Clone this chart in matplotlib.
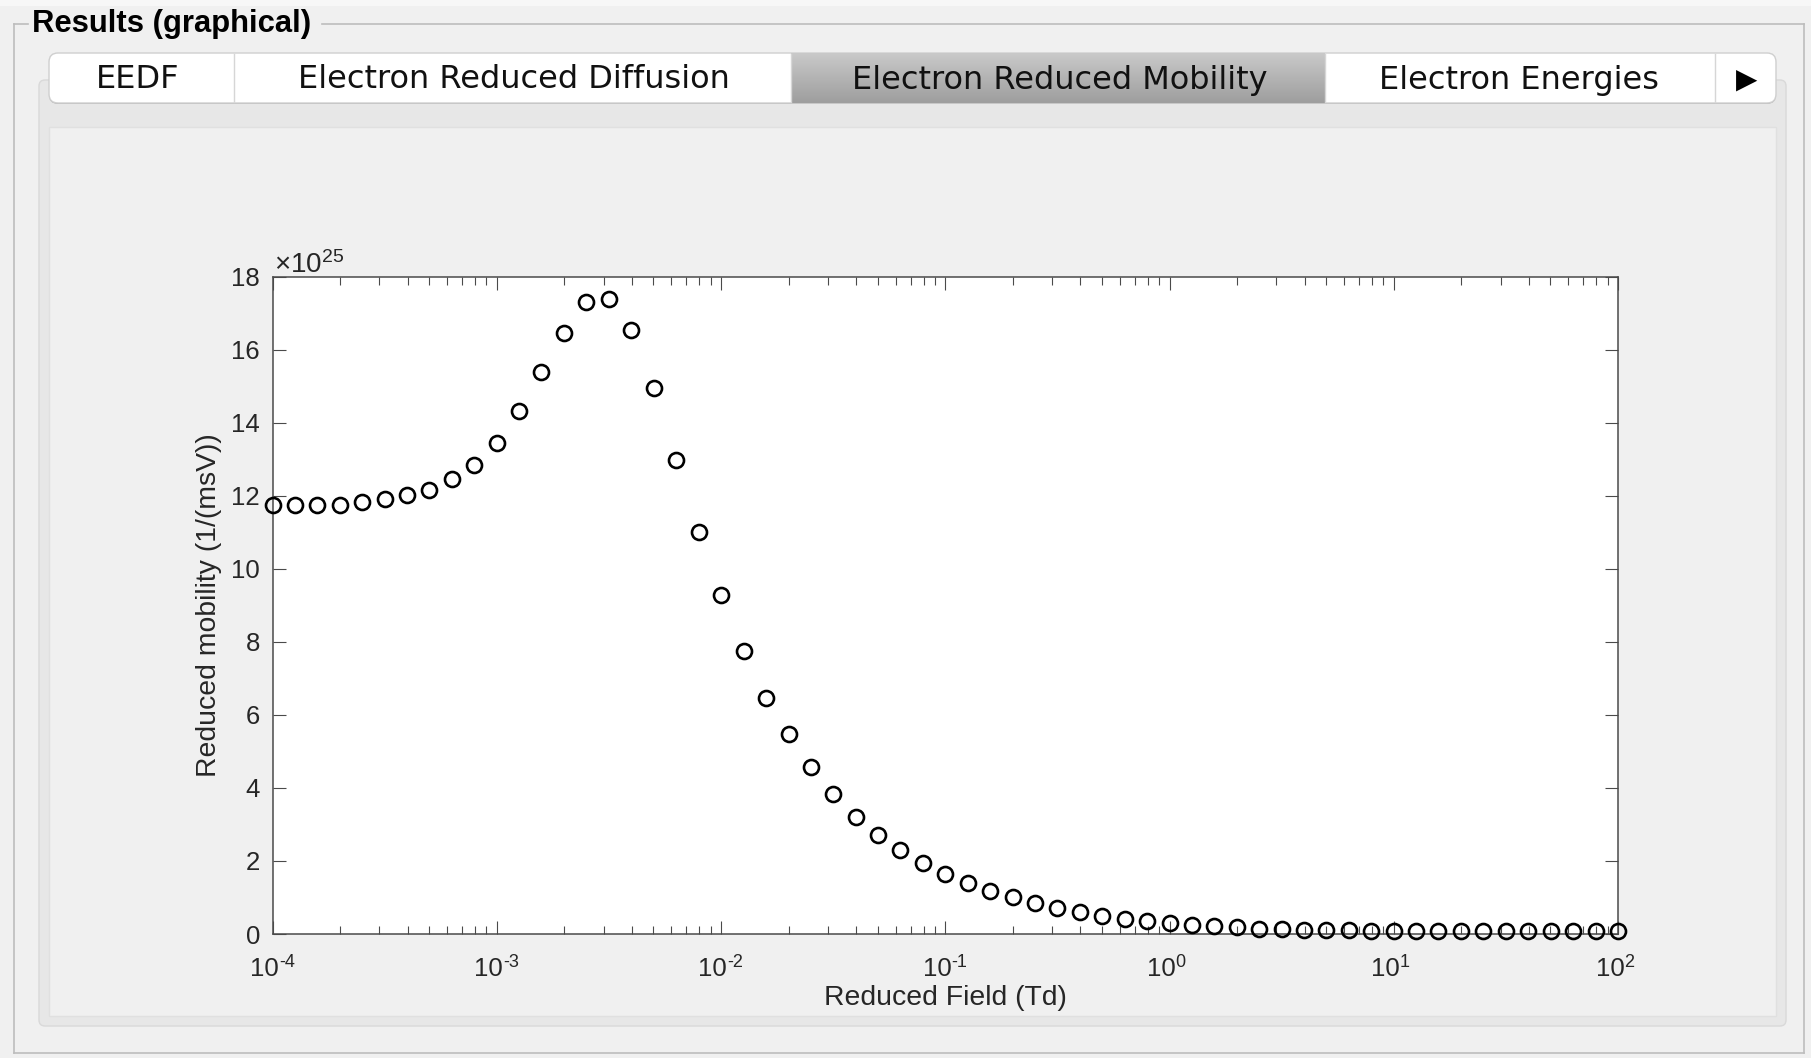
import numpy as np
import matplotlib
matplotlib.use('Agg')
import matplotlib.pyplot as plt
from matplotlib.patches import Rectangle, FancyBboxPatch
from matplotlib.colors import LinearSegmentedColormap
from matplotlib.ticker import LogLocator, NullFormatter, FuncFormatter, MultipleLocator
from matplotlib.transforms import ScaledTranslation, blended_transform_factory

# campo reducido (Td), 10 puntos por decada
campo = [1.0e-4, 1.26e-4, 1.58e-4, 2.0e-4, 2.51e-4, 3.16e-4, 3.98e-4, 5.01e-4, 6.31e-4, 7.94e-4,
         1.0e-3, 1.26e-3, 1.58e-3, 2.0e-3, 2.51e-3, 3.16e-3, 3.98e-3, 5.01e-3, 6.31e-3, 7.94e-3,
         1.0e-2, 1.26e-2, 1.58e-2, 2.0e-2, 2.51e-2, 3.16e-2, 3.98e-2, 5.01e-2, 6.31e-2, 7.94e-2,
         1.0e-1, 1.26e-1, 1.58e-1, 2.0e-1, 2.51e-1, 3.16e-1, 3.98e-1, 5.01e-1, 6.31e-1, 7.94e-1,
         1.0, 1.26, 1.58, 2.0, 2.51, 3.16, 3.98, 5.01, 6.31, 7.94,
         10.0, 12.6, 15.8, 20.0, 25.1, 31.6, 39.8, 50.1, 63.1, 79.4,
         100.0]

# movilidad reducida en unidades de 1e25 (1/(msV))
movilidad_e25 = [11.74, 11.74, 11.76, 11.76, 11.84, 11.92, 12.03, 12.17, 12.46, 12.84,
                 13.45, 14.31, 15.38, 16.46, 17.32, 17.39, 16.54, 14.95, 12.99, 11.02,
                 9.27, 7.76, 6.47, 5.47, 4.57, 3.83, 3.21, 2.71, 2.29, 1.94,
                 1.64, 1.40, 1.18, 1.00, 0.84, 0.71, 0.60, 0.50, 0.42, 0.35,
                 0.30, 0.25, 0.21, 0.18, 0.15, 0.13, 0.11, 0.10, 0.10, 0.09,
                 0.09, 0.09, 0.08, 0.08, 0.08, 0.08, 0.08, 0.07, 0.07, 0.07,
                 0.07]
movilidad = np.array(movilidad_e25) * 1e25

decadas = [-4, -3, -2, -1, 0, 1, 2]
pestanas = ['EEDF', 'Electron Reduced Diffusion', 'Electron Reduced Mobility', 'Electron Energies']

plt.rcParams['font.family'] = ['Liberation Sans', 'DejaVu Sans']
plt.rcParams['mathtext.fontset'] = 'custom'
plt.rcParams['mathtext.rm'] = 'Liberation Sans'
plt.rcParams['mathtext.it'] = 'Liberation Sans:italic'
plt.rcParams['mathtext.bf'] = 'Liberation Sans:bold'

W, H = 1811, 1058
fig = plt.figure(figsize=(W / 100, H / 100), dpi=100, facecolor='#f0f0f0')

# ---- fondo tipo ventana (coordenadas en pixeles) ----
fondo = fig.add_axes([0, 0, 1, 1], zorder=-1)
fondo.set_axis_off()

fondo.add_patch(Rectangle((0, 0), W, 6, facecolor='#f7f7f7', edgecolor='none'))

# marco del panel "Results (graphical)"
borde = '#bdbdbd'
fondo.plot([14, 14], [24, 1053], color=borde, lw=1.2)
fondo.plot([14, 1804], [1053, 1053], color=borde, lw=1.2)
fondo.plot([1804, 1804], [24, 1053], color=borde, lw=1.2)
fondo.plot([14, 28], [24, 24], color=borde, lw=1.2)
fondo.plot([322, 1804], [24, 24], color=borde, lw=1.2)
fondo.text(32, 24, 'Results (graphical)', fontsize=22.3, fontweight='bold',
           ha='left', va='center', color='black')

# panel de pestanas
fondo.add_patch(FancyBboxPatch((39, 80), 1786 - 39, 1026 - 80, boxstyle='round,pad=0,rounding_size=6',
                               facecolor='#e7e7e7', edgecolor='#d9d9d9', lw=1))
fondo.add_patch(Rectangle((49, 127), 1776 - 49, 1016 - 127, facecolor='#f0f0f0',
                          edgecolor='#e0e0e0', lw=1))

# barra de pestanas
fondo.add_patch(FancyBboxPatch((49, 54), 1776 - 49, 50, boxstyle='round,pad=0,rounding_size=9',
                               facecolor='#b5b5b5', edgecolor='none', zorder=1))
fondo.add_patch(FancyBboxPatch((49, 53), 1776 - 49, 50, boxstyle='round,pad=0,rounding_size=9',
                               facecolor='white', edgecolor='#cfcfcf', lw=1, zorder=2))
gris = LinearSegmentedColormap.from_list('sel', ['#c9c9c9', '#9e9e9e'])
fondo.imshow(np.linspace(0, 1, 60).reshape(-1, 1), cmap=gris, extent=(791, 1325, 103, 53),
             aspect='auto', interpolation='bilinear', zorder=3)
for xd in [234, 791, 1325, 1715]:
    fondo.plot([xd, xd], [54, 102], color='#d6d6d6', lw=1, zorder=4)
centros = [138, 514, 1060, 1519]
for c, t in zip(centros, pestanas):
    fondo.text(c, 80, t, fontsize=23, family='DejaVu Sans', ha='center', va='center',
               color='#111111', zorder=5)
fondo.text(1747, 80, '\u25b6', fontsize=20, family='DejaVu Sans', ha='center', va='center',
           color='black', zorder=5)

fondo.set_xlim(0, W)
fondo.set_ylim(H, 0)

# ---- grafico ----
izq, der, arr, aba = 272.5, 1618, 276.7, 934
ax = fig.add_axes([izq / W, 1 - aba / H, (der - izq) / W, (aba - arr) / H], zorder=2)
ax.set_facecolor('white')

ax.plot(campo, movilidad, 'o', mfc='none', mec='black', ms=10.8, mew=1.9, clip_on=False, zorder=5)

ax.set_xscale('log')
ax.set_xlim(1e-4, 1e2)
ax.set_ylim(0, 18e25)
ax.yaxis.set_major_locator(MultipleLocator(2e25))
ax.yaxis.set_major_formatter(FuncFormatter(lambda v, p: '%d' % round(v / 1e25)))
ax.xaxis.set_major_locator(LogLocator(base=10, numticks=20))
ax.xaxis.set_minor_locator(LogLocator(base=10, subs=range(2, 10), numticks=20))
ax.xaxis.set_major_formatter(NullFormatter())
ax.xaxis.set_minor_formatter(NullFormatter())

color_eje = '#4a4a4a'
for s in ax.spines.values():
    s.set_color(color_eje)
    s.set_linewidth(1.1)
ax.tick_params(which='both', direction='in', top=True, right=True, color=color_eje, width=0.8,
               labelcolor='#262626', labelsize=18.5)
ax.tick_params(which='major', length=9.5, pad=9)
ax.tick_params(which='minor', length=5.5)

# etiquetas del eje x como 10 y exponente
tr = blended_transform_factory(ax.transData, ax.transAxes)
for d in decadas:
    ax.text(10.0 ** d, 0, '10', transform=tr + ScaledTranslation(4.5 / 72, -30.5 / 72, fig.dpi_scale_trans),
            ha='right', va='baseline', fontsize=18.5, color='#262626', clip_on=False)
    ax.text(10.0 ** d, 0, str(d), transform=tr + ScaledTranslation(4.5 / 72, -23.5 / 72, fig.dpi_scale_trans),
            ha='left', va='baseline', fontsize=13, color='#262626', clip_on=False)

ax.text(0, 1, r'$\times10^{25}$', transform=ax.transAxes + ScaledTranslation(1 / 72, 3 / 72, fig.dpi_scale_trans),
        ha='left', va='baseline', fontsize=20, color='#262626')

ax.set_xlabel('Reduced Field (Td)', fontsize=20.4, color='#262626', labelpad=28)
ax.set_ylabel('Reduced mobility (1/(msV))', fontsize=20.4, color='#262626', labelpad=7)

fig.savefig('out.png', dpi=100, facecolor=fig.get_facecolor())
